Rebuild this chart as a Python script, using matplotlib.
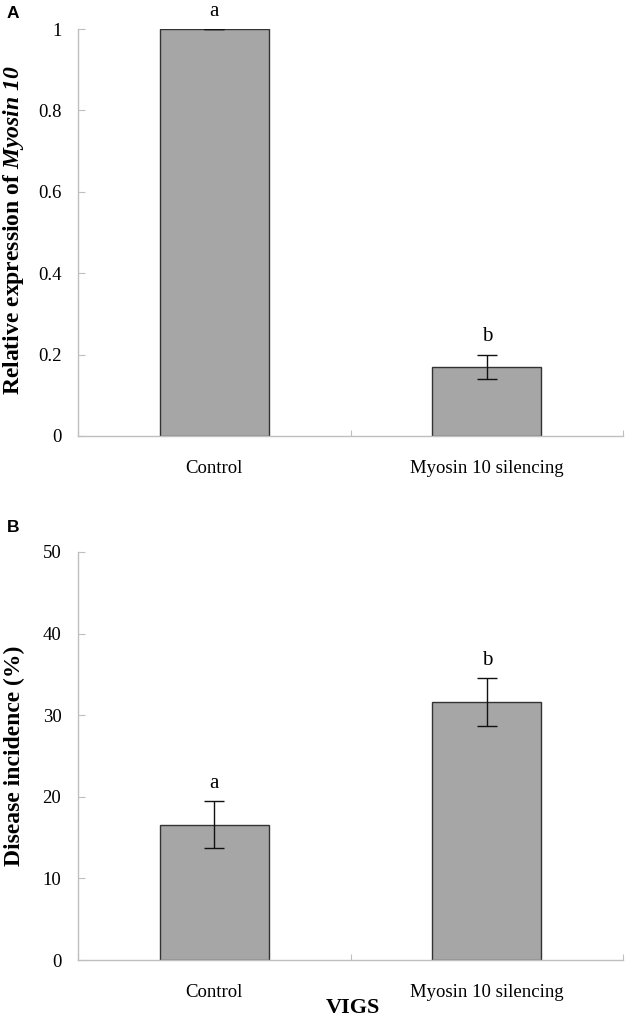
import matplotlib
matplotlib.use("Agg")
import matplotlib.pyplot as plt

# data
groups = ["Control", "Myosin 10 silencing"]
expr = [1.0, 0.17]
expr_err = [0.0, 0.03]
expr_letters = ["a", "b"]
incidence = [16.6, 31.6]
incidence_err = [2.9, 2.9]
incidence_letters = ["a", "b"]
expr_ticks = [0, 0.2, 0.4, 0.6, 0.8, 1]
expr_ticklabels = ["0", "0.2", "0.4", "0.6", "0.8", "1"]
inc_ticks = [0, 10, 20, 30, 40, 50]

plt.rcParams['font.family'] = ['Liberation Serif', 'DejaVu Serif']
plt.rcParams['mathtext.fontset'] = 'custom'
plt.rcParams['mathtext.rm'] = 'Liberation Serif'
plt.rcParams['mathtext.it'] = 'Liberation Serif:italic'
plt.rcParams['mathtext.bf'] = 'Liberation Serif:bold'
plt.rcParams['mathtext.bfit'] = 'Liberation Serif:italic:bold'

W, H = 630, 1021
fig = plt.figure(figsize=(W / 100, H / 100), dpi=100)

axis_grey = '#BFBFBF'
bar_grey = '#A6A6A6'


def make_panel(rect, vals, errs, letters, ticks, ticklabels, ymax):
    ax = fig.add_axes(rect)
    x = range(len(vals))
    ax.bar(x, vals, width=0.4, color=bar_grey, edgecolor='#333333', linewidth=1.0, zorder=2)
    ax.errorbar(x, vals, yerr=errs, fmt='none', ecolor='#111111', elinewidth=1.0,
                capsize=7, capthick=1.0, zorder=3)
    for xi, v, e, lt in zip(x, vals, errs, letters):
        ax.annotate(lt, (xi, v + e), xytext=(0, 6), textcoords='offset points',
                    ha='center', va='bottom', fontsize=15, annotation_clip=False)
    ax.set_xlim(-0.5, len(vals) - 0.5)
    ax.set_ylim(0, ymax)
    ax.set_yticks(ticks)
    ax.set_yticklabels(ticklabels, fontsize=13.5)
    # category boundary ticks (Excel style) and labels in the middle
    ax.set_xticks([-0.5, 0.5, 1.5])
    ax.set_xticklabels([])
    ax.set_xticks([0, 1], minor=True)
    ax.set_xticklabels(groups, minor=True, fontsize=13.5)
    ax.tick_params(axis='x', which='major', direction='in', length=4, color=axis_grey)
    ax.tick_params(axis='x', which='minor', length=0, pad=17)
    ax.tick_params(axis='y', direction='in', length=5, color=axis_grey, pad=12)
    for s in ['top', 'right']:
        ax.spines[s].set_visible(False)
    for s in ['left', 'bottom']:
        ax.spines[s].set_color(axis_grey)
        ax.spines[s].set_linewidth(1.0)
    return ax


left = 78 / W
width = (623 - 78) / W
axA = make_panel([left, 1 - 436 / H, width, (436 - 29) / H], expr, expr_err, expr_letters,
                 expr_ticks, expr_ticklabels, 1.0)
axB = make_panel([left, 1 - 960 / H, width, (960 - 552) / H], incidence, incidence_err,
                 incidence_letters, inc_ticks, [str(t) for t in inc_ticks], 50)

# y axis titles
fig.text(14 / W, 1 - 230 / H, r"Relative expression of $\mathbfit{Myosin\ 10}$",
         rotation=90, ha='center', va='center', fontsize=17, fontweight='bold')
fig.text(14 / W, 1 - 756 / H, "Disease incidence (%)",
         rotation=90, ha='center', va='center', fontsize=17, fontweight='bold')

fig.text(353 / W, 1 - 1008 / H, "VIGS", ha='center', va='center', fontsize=16, fontweight='bold')

fig.text(7 / W, 1 - 13 / H, "A", ha='left', va='center', fontsize=12.5, fontweight='bold',
         family=['Liberation Sans', 'DejaVu Sans'])
fig.text(7 / W, 1 - 528 / H, "B", ha='left', va='center', fontsize=12.5, fontweight='bold',
         family=['Liberation Sans', 'DejaVu Sans'])

fig.savefig("out.png", dpi=100)
